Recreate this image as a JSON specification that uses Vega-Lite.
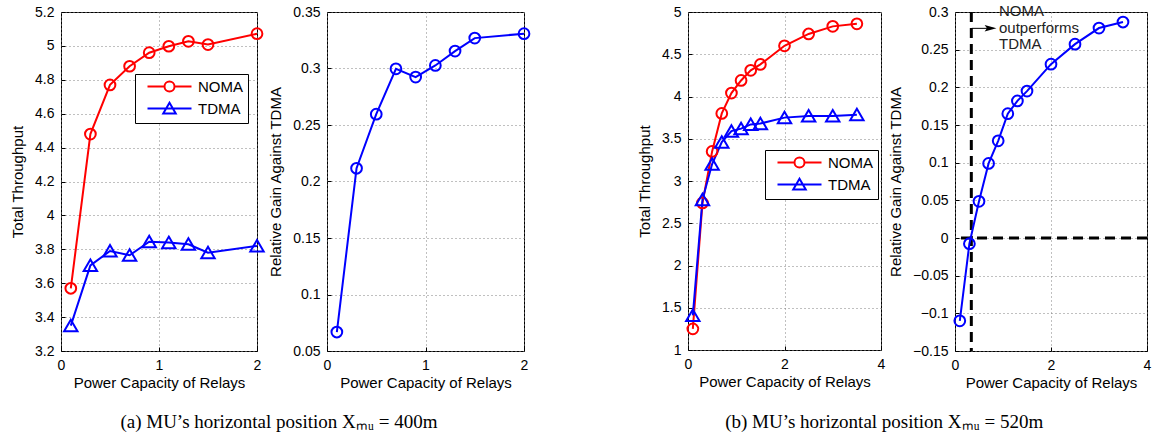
{
  "$schema": "https://vega.github.io/schema/vega-lite/v6.json",
  "padding": {"left": 10, "top": 3, "right": 0, "bottom": 0},
  "background": "white",
  "datasets": {
    "p1": [
      {"x": 0.1, "series": "NOMA", "y": 3.57},
      {"x": 0.3, "series": "NOMA", "y": 4.48},
      {"x": 0.5, "series": "NOMA", "y": 4.77},
      {"x": 0.7, "series": "NOMA", "y": 4.88},
      {"x": 0.9, "series": "NOMA", "y": 4.96},
      {"x": 1.1, "series": "NOMA", "y": 4.998},
      {"x": 1.3, "series": "NOMA", "y": 5.027},
      {"x": 1.5, "series": "NOMA", "y": 5.008},
      {"x": 2.0, "series": "NOMA", "y": 5.072},
      {"x": 0.1, "series": "TDMA", "y": 3.35},
      {"x": 0.3, "series": "TDMA", "y": 3.705},
      {"x": 0.5, "series": "TDMA", "y": 3.79},
      {"x": 0.7, "series": "TDMA", "y": 3.765},
      {"x": 0.9, "series": "TDMA", "y": 3.845},
      {"x": 1.1, "series": "TDMA", "y": 3.84},
      {"x": 1.3, "series": "TDMA", "y": 3.83},
      {"x": 1.5, "series": "TDMA", "y": 3.78},
      {"x": 2.0, "series": "TDMA", "y": 3.82}
    ],
    "p2": [
      {"x": 0.1, "gain": 0.0668},
      {"x": 0.3, "gain": 0.2117},
      {"x": 0.5, "gain": 0.2596},
      {"x": 0.7, "gain": 0.2997},
      {"x": 0.9, "gain": 0.2924},
      {"x": 1.1, "gain": 0.3027},
      {"x": 1.3, "gain": 0.3154},
      {"x": 1.5, "gain": 0.3269},
      {"x": 2.0, "gain": 0.3308}
    ],
    "p3": [
      {"x": 0.1, "series": "NOMA", "y": 1.25},
      {"x": 0.3, "series": "NOMA", "y": 2.74},
      {"x": 0.5, "series": "NOMA", "y": 3.35},
      {"x": 0.7, "series": "NOMA", "y": 3.80},
      {"x": 0.9, "series": "NOMA", "y": 4.04},
      {"x": 1.1, "series": "NOMA", "y": 4.19},
      {"x": 1.3, "series": "NOMA", "y": 4.31},
      {"x": 1.5, "series": "NOMA", "y": 4.38},
      {"x": 2.0, "series": "NOMA", "y": 4.60},
      {"x": 2.5, "series": "NOMA", "y": 4.74},
      {"x": 3.0, "series": "NOMA", "y": 4.83},
      {"x": 3.5, "series": "NOMA", "y": 4.86},
      {"x": 0.1, "series": "TDMA", "y": 1.41},
      {"x": 0.3, "series": "TDMA", "y": 2.78},
      {"x": 0.5, "series": "TDMA", "y": 3.20},
      {"x": 0.7, "series": "TDMA", "y": 3.46},
      {"x": 0.9, "series": "TDMA", "y": 3.59},
      {"x": 1.1, "series": "TDMA", "y": 3.62},
      {"x": 1.3, "series": "TDMA", "y": 3.67},
      {"x": 1.5, "series": "TDMA", "y": 3.68},
      {"x": 2.0, "series": "TDMA", "y": 3.75},
      {"x": 2.5, "series": "TDMA", "y": 3.77},
      {"x": 3.0, "series": "TDMA", "y": 3.77},
      {"x": 3.5, "series": "TDMA", "y": 3.785}
    ],
    "p4": [
      {"x": 0.1, "gain": -0.11},
      {"x": 0.3, "gain": -0.0076},
      {"x": 0.5, "gain": 0.0487},
      {"x": 0.7, "gain": 0.099},
      {"x": 0.9, "gain": 0.129},
      {"x": 1.1, "gain": 0.165},
      {"x": 1.3, "gain": 0.182},
      {"x": 1.5, "gain": 0.195},
      {"x": 2.0, "gain": 0.2307},
      {"x": 2.5, "gain": 0.2573},
      {"x": 3.0, "gain": 0.2787},
      {"x": 3.5, "gain": 0.2867}
    ]
  },
  "resolve": {"scale": {"color": "independent", "shape": "independent"}, "legend": {"color": "independent", "shape": "independent"}},
  "hconcat": [
    {
      "bounds": "flush",
      "spacing": 70,
      "resolve": {"scale": {"color": "independent", "shape": "independent"}, "legend": {"color": "independent", "shape": "independent"}},
      "title": {"text": "(a) MU’s horizontal position Xₘᵤ = 400m", "orient": "bottom", "anchor": "middle", "offset": 22, "dx": 7},
      "hconcat": [
        {
          "width": 196,
          "height": 339,
          "encoding": {
            "x": {"field": "x", "type": "quantitative", "scale": {"domain": [0, 2], "nice": false}, "axis": {"title": "Power Capacity of Relays", "values": [0, 1, 2], "format": "~g"}},
            "y": {"field": "y", "type": "quantitative", "scale": {"domain": [3.2, 5.2], "nice": false, "zero": false}, "axis": {"title": "Total Throughput", "values": [3.2, 3.4, 3.6, 3.8, 4.0, 4.2, 4.4, 4.6, 4.8, 5.0, 5.2], "format": "~g"}}
          },
          "resolve": {"scale": {"color": "independent", "shape": "independent"}, "legend": {"color": "independent", "shape": "independent"}},
          "layer": [
            {
              "data": {"name": "p1"},
              "mark": {"type": "line", "strokeWidth": 2},
              "encoding": {"color": {"field": "series", "type": "nominal", "scale": {"domain": ["NOMA", "TDMA"], "range": ["#ff0000", "#0000ff"]}, "legend": null}}
            },
            {
              "data": {"name": "p1"},
              "mark": {"type": "point", "filled": false, "strokeWidth": 2, "opacity": 1, "size": 115},
              "encoding": {
                "color": {"field": "series", "type": "nominal", "scale": {"domain": ["NOMA", "TDMA"], "range": ["#ff0000", "#0000ff"]}, "legend": null},
                "shape": {"field": "series", "type": "nominal", "scale": {"domain": ["NOMA", "TDMA"], "range": ["circle", "M0,-1.1L1.25,1.05L-1.25,1.05Z"]}, "legend": null}
              }
            },
            {
              "data": {"values": []},
              "mark": {"type": "point", "filled": false, "strokeWidth": 2, "opacity": 1, "size": 100},
              "encoding": {
                "color": {
                  "field": "series", "type": "nominal",
                  "scale": {"domain": ["NOMA", "TDMA"], "range": ["#ff0000", "#0000ff"]},
                  "legend": {"title": null, "orient": "none", "legendX": 74, "legendY": 62, "strokeColor": "#000", "fillColor": "#fff", "padding": 5, "cornerRadius": 0, "labelFont": "Liberation Sans", "labelFontSize": 15, "labelColor": "#000", "symbolSize": 100, "symbolStrokeWidth": 2, "symbolOpacity": 1, "symbolOffset": 22, "labelOffset": 21, "rowPadding": 2}
                },
                "shape": {
                  "field": "series", "type": "nominal",
                  "scale": {"domain": ["NOMA", "TDMA"], "range": ["M-4.4,0H-1M1,0H4.4M1,0A1,1,0,1,1,-1,0A1,1,0,1,1,1,0", "M-4.4,0H4.4M0,-1.15L1.25,1L-1.25,1Z"]},
                  "legend": {"title": null, "orient": "none", "legendX": 74, "legendY": 62, "strokeColor": "#000", "fillColor": "#fff", "padding": 5, "cornerRadius": 0, "labelFont": "Liberation Sans", "labelFontSize": 15, "labelColor": "#000", "symbolSize": 100, "symbolStrokeWidth": 2, "symbolOpacity": 1, "symbolOffset": 22, "labelOffset": 21, "rowPadding": 2}
                }
              }
            }
          ]
        },
        {
          "width": 197,
          "height": 339,
          "data": {"name": "p2"},
          "encoding": {
            "x": {"field": "x", "type": "quantitative", "scale": {"domain": [0, 2], "nice": false}, "axis": {"title": "Power Capacity of Relays", "values": [0, 1, 2], "format": "~g"}},
            "y": {"field": "gain", "type": "quantitative", "scale": {"domain": [0.05, 0.35], "nice": false, "zero": false}, "axis": {"title": "Relative Gain Against TDMA", "values": [0.05, 0.1, 0.15, 0.2, 0.25, 0.3, 0.35], "format": "~g"}}
          },
          "layer": [
            {"mark": {"type": "line", "strokeWidth": 2, "color": "#0000ff"}},
            {"mark": {"type": "point", "filled": false, "strokeWidth": 2, "size": 115, "color": "#0000ff", "opacity": 1}}
          ]
        }
      ]
    },
    {
      "bounds": "flush",
      "spacing": 74,
      "resolve": {"scale": {"color": "independent", "shape": "independent"}, "legend": {"color": "independent", "shape": "independent"}},
      "title": {"text": "(b) MU’s horizontal position Xₘᵤ = 520m", "orient": "bottom", "anchor": "middle", "offset": 22, "dx": -10},
      "hconcat": [
        {
          "width": 193,
          "height": 338,
          "encoding": {
            "x": {"field": "x", "type": "quantitative", "scale": {"domain": [0, 4], "nice": false}, "axis": {"title": "Power Capacity of Relays", "values": [0, 2, 4], "format": "~g"}},
            "y": {"field": "y", "type": "quantitative", "scale": {"domain": [1, 5], "nice": false, "zero": false}, "axis": {"title": "Total Throughput", "values": [1, 1.5, 2, 2.5, 3, 3.5, 4, 4.5, 5], "format": "~g"}}
          },
          "resolve": {"scale": {"color": "independent", "shape": "independent"}, "legend": {"color": "independent", "shape": "independent"}},
          "layer": [
            {
              "data": {"name": "p3"},
              "mark": {"type": "line", "strokeWidth": 2},
              "encoding": {"color": {"field": "series", "type": "nominal", "scale": {"domain": ["NOMA", "TDMA"], "range": ["#ff0000", "#0000ff"]}, "legend": null}}
            },
            {
              "data": {"name": "p3"},
              "mark": {"type": "point", "filled": false, "strokeWidth": 2, "opacity": 1, "size": 115},
              "encoding": {
                "color": {"field": "series", "type": "nominal", "scale": {"domain": ["NOMA", "TDMA"], "range": ["#ff0000", "#0000ff"]}, "legend": null},
                "shape": {"field": "series", "type": "nominal", "scale": {"domain": ["NOMA", "TDMA"], "range": ["circle", "M0,-1.1L1.25,1.05L-1.25,1.05Z"]}, "legend": null}
              }
            },
            {
              "data": {"values": []},
              "mark": {"type": "point", "filled": false, "strokeWidth": 2, "opacity": 1, "size": 100},
              "encoding": {
                "color": {
                  "field": "series", "type": "nominal",
                  "scale": {"domain": ["NOMA", "TDMA"], "range": ["#ff0000", "#0000ff"]},
                  "legend": {"title": null, "orient": "none", "legendX": 77, "legendY": 138, "strokeColor": "#000", "fillColor": "#fff", "padding": 5, "cornerRadius": 0, "labelFont": "Liberation Sans", "labelFontSize": 15, "labelColor": "#000", "symbolSize": 100, "symbolStrokeWidth": 2, "symbolOpacity": 1, "symbolOffset": 22, "labelOffset": 21, "rowPadding": 2}
                },
                "shape": {
                  "field": "series", "type": "nominal",
                  "scale": {"domain": ["NOMA", "TDMA"], "range": ["M-4.4,0H-1M1,0H4.4M1,0A1,1,0,1,1,-1,0A1,1,0,1,1,1,0", "M-4.4,0H4.4M0,-1.15L1.25,1L-1.25,1Z"]},
                  "legend": {"title": null, "orient": "none", "legendX": 77, "legendY": 138, "strokeColor": "#000", "fillColor": "#fff", "padding": 5, "cornerRadius": 0, "labelFont": "Liberation Sans", "labelFontSize": 15, "labelColor": "#000", "symbolSize": 100, "symbolStrokeWidth": 2, "symbolOpacity": 1, "symbolOffset": 22, "labelOffset": 21, "rowPadding": 2}
                }
              }
            }
          ]
        },
        {
          "width": 192,
          "height": 339,
          "encoding": {
            "x": {"field": "x", "type": "quantitative", "scale": {"domain": [0, 4], "nice": false}, "axis": {"title": "Power Capacity of Relays", "values": [0, 2, 4], "format": "~g"}},
            "y": {"field": "gain", "type": "quantitative", "scale": {"domain": [-0.15, 0.3], "nice": false, "zero": false}, "axis": {"title": "Relative Gain Against TDMA", "values": [-0.15, -0.1, -0.05, 0, 0.05, 0.1, 0.15, 0.2, 0.25, 0.3], "format": "~g"}}
          },
          "layer": [
            {
              "data": {"values": [{"threshold": 0.34}]},
              "mark": {"type": "rule", "strokeWidth": 3, "strokeDash": [10, 6], "color": "#000"},
              "encoding": {"x": {"field": "threshold", "type": "quantitative"}, "y": null}
            },
            {
              "data": {"values": [{"level": 0}]},
              "mark": {"type": "rule", "strokeWidth": 3, "strokeDash": [10, 6], "color": "#000"},
              "encoding": {"x": null, "y": {"field": "level", "type": "quantitative"}}
            },
            {
              "data": {"name": "p4"},
              "mark": {"type": "line", "strokeWidth": 2, "color": "#0000ff"}
            },
            {
              "data": {"name": "p4"},
              "mark": {"type": "point", "filled": false, "strokeWidth": 2, "size": 115, "color": "#0000ff", "opacity": 1}
            },
            {
              "data": {"values": [{"ax": 0.35, "ax2": 0.8, "ay": 0.2783}]},
              "mark": {"type": "rule", "strokeWidth": 1, "color": "#000"},
              "encoding": {"x": {"field": "ax", "type": "quantitative"}, "x2": {"field": "ax2"}, "y": {"field": "ay", "type": "quantitative"}}
            },
            {
              "data": {"values": [{"ax": 0.74, "ay": 0.2783}]},
              "mark": {"type": "point", "shape": "M-1,-0.55L1,0L-1,0.55L-0.6,0Z", "filled": true, "size": 140, "color": "#000", "opacity": 1},
              "encoding": {"x": {"field": "ax", "type": "quantitative"}, "y": {"field": "ay", "type": "quantitative"}}
            },
            {
              "data": {"values": [{"tx": 0.917, "ty": 0.2943, "note": ["NOMA", "outperforms", "TDMA"]}]},
              "mark": {"type": "text", "align": "left", "baseline": "alphabetic", "font": "Liberation Sans", "fontSize": 15, "lineHeight": 16.3, "color": "#222"},
              "encoding": {"x": {"field": "tx", "type": "quantitative"}, "y": {"field": "ty", "type": "quantitative"}, "text": {"field": "note"}}
            }
          ]
        }
      ]
    }
  ],
  "spacing": 103,
  "config": {
    "font": "Liberation Sans",
    "view": {"stroke": "#000", "strokeWidth": 1},
    "axis": {
      "labelFont": "Liberation Sans", "labelFontSize": 14, "labelColor": "#000", "labelFlush": false, "labelOverlap": false,
      "titleFont": "Liberation Sans", "titleFontSize": 15, "titleFontWeight": "normal", "titleColor": "#000",
      "grid": true, "gridColor": "#808080", "gridDash": [1, 3], "gridWidth": 1,
      "domain": false, "ticks": true, "tickSize": -4, "tickColor": "#000", "tickWidth": 1, "labelPadding": 11
    },
    "axisX": {"titlePadding": 3},
    "axisY": {"titlePadding": 9},
    "title": {"font": "Liberation Serif", "fontSize": 19, "fontWeight": "normal", "color": "#000"}
  }
}
